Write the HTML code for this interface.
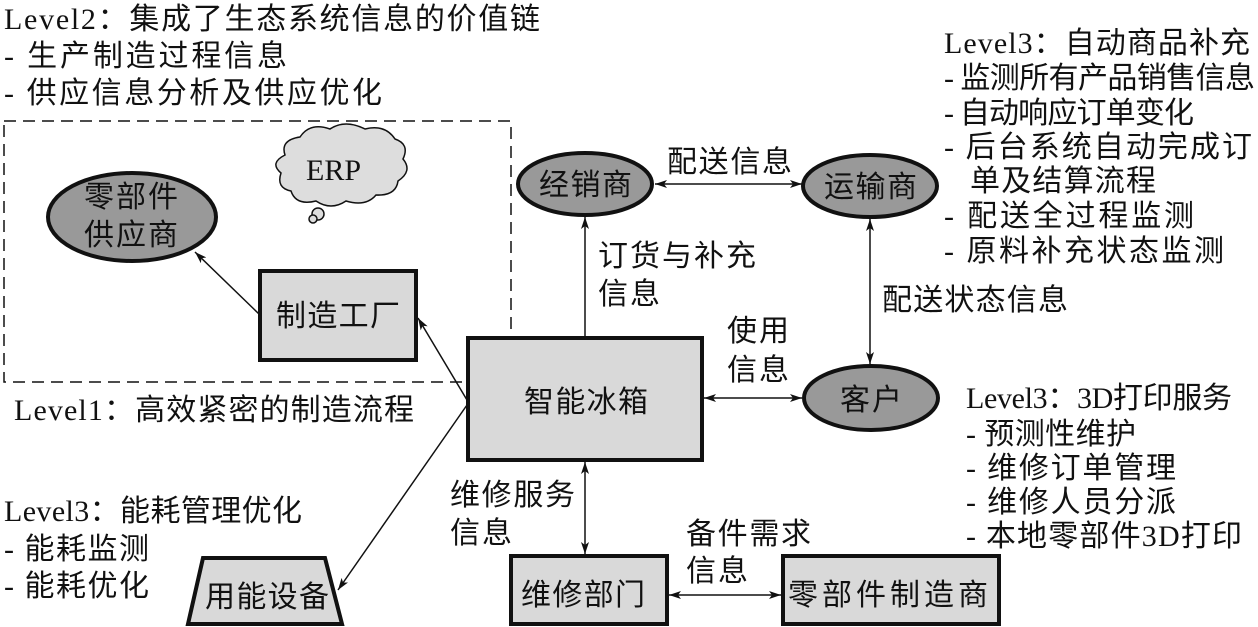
<!DOCTYPE html>
<html><head><meta charset="utf-8"><style>
body{margin:0;background:#fff}
svg{display:block}
text{font-family:"Liberation Serif","Noto Sans CJK SC",sans-serif;font-size:30px;fill:#111}
</style></head><body>
<svg width="1258" height="627" viewBox="0 0 1258 627" xmlns="http://www.w3.org/2000/svg">
<defs>
<marker id="a" viewBox="0 0 12 8" refX="12" refY="4" markerWidth="12" markerHeight="8" orient="auto-start-reverse" markerUnits="userSpaceOnUse">
<path d="M0,0 L12,4 L0,8 L3,4 z" fill="#111"/></marker>
</defs>
<rect x="4" y="121" width="507" height="261" fill="none" stroke="#111" stroke-width="1.5" stroke-dasharray="12,7"/>
<path d="M285,155 q-5,-15 15,-18 q10,-15 30,-8 q15,-10 35,0 q20,-5 30,10 q15,5 8,20 q10,12 -5,22 q-2,15 -22,14 q-10,12 -30,6 q-15,10 -30,0 q-20,5 -25,-10 q-15,-3 -10,-18 q-12,-10 4,-18z" fill="#ddd" stroke="#111" stroke-width="1.5"/>
<circle cx="318" cy="214" r="6" fill="#ddd" stroke="#111" stroke-width="1.5"/>
<circle cx="313" cy="219" r="4" fill="#ddd" stroke="#111" stroke-width="1.5"/>
<text x="306" y="180" font-size="28">ERP</text>
<g stroke="#111" stroke-width="4" fill="#999">
<ellipse cx="132" cy="217" rx="84" ry="44"/>
<ellipse cx="585" cy="184" rx="67" ry="31"/>
<ellipse cx="870" cy="186" rx="67" ry="31"/>
<ellipse cx="871" cy="398" rx="67" ry="32"/>
</g>
<g stroke="#111" stroke-width="4" fill="#d9d9d9">
<rect x="260" y="271" width="156" height="89"/>
<rect x="468" y="338" width="234" height="122"/>
<rect x="511" y="556" width="156" height="68"/>
<rect x="783" y="556" width="216" height="68"/>
<path d="M203,558 L325,558 L342,624 L188,624 Z"/>
</g>
<g stroke="#111" stroke-width="1.5" fill="none">
<line x1="259" y1="314" x2="195" y2="252" marker-end="url(#a)"/>
<line x1="467" y1="400" x2="418" y2="318" marker-end="url(#a)"/>
<line x1="467" y1="405" x2="338" y2="590" marker-end="url(#a)"/>
<line x1="585" y1="337" x2="585" y2="217" marker-end="url(#a)"/>
<line x1="655" y1="184" x2="802" y2="184" marker-start="url(#a)" marker-end="url(#a)"/>
<line x1="870" y1="219" x2="870" y2="364" marker-start="url(#a)" marker-end="url(#a)"/>
<line x1="704" y1="398" x2="802" y2="398" marker-start="url(#a)" marker-end="url(#a)"/>
<line x1="585" y1="462" x2="585" y2="554" marker-start="url(#a)" marker-end="url(#a)"/>
<line x1="669" y1="595" x2="781" y2="595" marker-start="url(#a)" marker-end="url(#a)"/>
</g>
<text x="84" y="207" textLength="94">零部件</text><text x="84" y="245" textLength="94">供应商</text>
<text x="276" y="326" textLength="124">制造工厂</text>
<text x="524" y="412" textLength="124">智能冰箱</text>
<text x="539" y="195" textLength="93">经销商</text>
<text x="824" y="197" textLength="93">运输商</text>
<text x="840" y="410" textLength="62">客户</text>
<text x="521" y="605" textLength="124">维修部门</text>
<text x="788" y="605" textLength="200">零部件制造商</text>
<text x="205" y="607" textLength="124">用能设备</text>
<text x="667" y="172" textLength="125">配送信息</text>
<text x="598" y="266" textLength="158">订货与补充</text><text x="598" y="304" textLength="62">信息</text>
<text x="882" y="310" textLength="186">配送状态信息</text>
<text x="727" y="341" textLength="62">使用</text><text x="727" y="380" textLength="62">信息</text>
<text x="450" y="505" textLength="125">维修服务</text><text x="450" y="543" textLength="62">信息</text>
<text x="686" y="544" textLength="125">备件需求</text><text x="686" y="581" textLength="62">信息</text>
<text x="4" y="29" textLength="536">Level2：集成了生态系统信息的价值链</text>
<text x="4" y="66" textLength="283">- 生产制造过程信息</text>
<text x="4" y="103" textLength="378">- 供应信息分析及供应优化</text>
<text x="14" y="420" textLength="400">Level1：高效紧密的制造流程</text>
<text x="4" y="521" textLength="298">Level3：能耗管理优化</text>
<text x="4" y="559" textLength="145">- 能耗监测</text>
<text x="4" y="596" textLength="145">- 能耗优化</text>
<text x="944" y="53" textLength="306">Level3：自动商品补充</text>
<text x="944" y="88" textLength="311">- 监测所有产品销售信息</text>
<text x="944" y="123" textLength="250">- 自动响应订单变化</text>
<text x="944" y="157" textLength="308">- 后台系统自动完成订</text>
<text x="970" y="191" textLength="186">单及结算流程</text>
<text x="944" y="226" textLength="250">- 配送全过程监测</text>
<text x="944" y="261" textLength="280">- 原料补充状态监测</text>
<text x="966" y="408" textLength="266">Level3：3D打印服务</text>
<text x="966" y="444" textLength="170">- 预测性维护</text>
<text x="966" y="478" textLength="210">- 维修订单管理</text>
<text x="966" y="512" textLength="210">- 维修人员分派</text>
<text x="966" y="546" textLength="276">- 本地零部件3D打印</text>
</svg>
</body></html>
